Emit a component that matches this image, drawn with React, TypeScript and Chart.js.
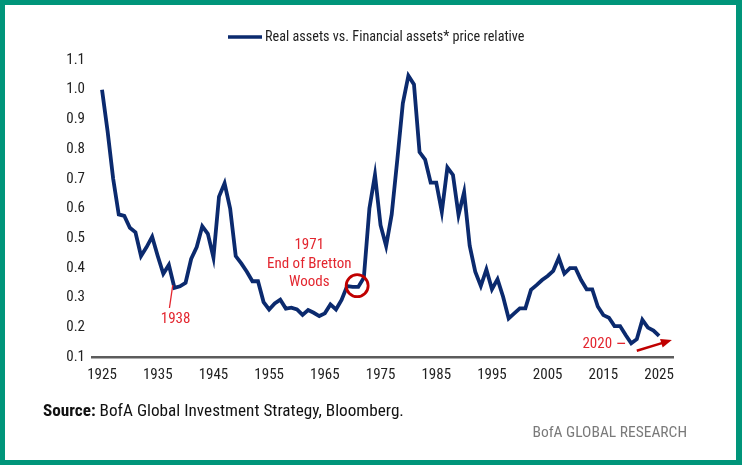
import React, { useEffect, useRef } from "react";
import { Chart, registerables } from "chart.js";

Chart.register(...registerables);

const YEARS: number[] = [
  1925, 1926, 1927, 1928, 1929, 1930, 1931, 1932, 1933, 1934,
  1935, 1936, 1937, 1938, 1939, 1940, 1941, 1942, 1943, 1944,
  1945, 1946, 1947, 1948, 1949, 1950, 1951, 1952, 1953, 1954,
  1955, 1956, 1957, 1958, 1959, 1960, 1961, 1962, 1963, 1964,
  1965, 1966, 1967, 1968, 1969, 1970, 1971, 1972, 1973, 1974,
  1975, 1976, 1977, 1978, 1979, 1980, 1981, 1982, 1983, 1984,
  1985, 1986, 1987, 1988, 1989, 1990, 1991, 1992, 1993, 1994,
  1995, 1996, 1997, 1998, 1999, 2000, 2001, 2002, 2003, 2004,
  2005, 2006, 2007, 2008, 2009, 2010, 2011, 2012, 2013, 2014,
  2015, 2016, 2017, 2018, 2019, 2020, 2021, 2022, 2023, 2024,
  2025,
];

const REAL_VS_FINANCIAL: number[] = [
  1.0, 0.86, 0.7, 0.58, 0.575, 0.535, 0.52, 0.44, 0.47, 0.505,
  0.44, 0.38, 0.41, 0.333, 0.338, 0.35, 0.43, 0.47, 0.54, 0.515,
  0.435, 0.64, 0.685, 0.6, 0.44, 0.415, 0.387, 0.355, 0.355, 0.285,
  0.26, 0.28, 0.293, 0.263, 0.266, 0.26, 0.242, 0.258, 0.249, 0.238,
  0.247, 0.277, 0.26, 0.292, 0.339, 0.336, 0.336, 0.367, 0.6, 0.713,
  0.544, 0.474, 0.58, 0.763, 0.954, 1.047, 1.018, 0.79, 0.765, 0.687,
  0.687, 0.589, 0.738, 0.713, 0.578, 0.655, 0.475, 0.387, 0.339, 0.395,
  0.328, 0.362, 0.303, 0.23, 0.247, 0.264, 0.264, 0.326, 0.342, 0.359,
  0.373, 0.39, 0.434, 0.381, 0.399, 0.399, 0.359, 0.328, 0.328, 0.27,
  0.241, 0.232, 0.204, 0.204, 0.174, 0.146, 0.16, 0.225, 0.199, 0.189,
  0.171,
];

const X_TICKS: number[] = [1925, 1935, 1945, 1955, 1965, 1975, 1985, 1995, 2005, 2015, 2025];
const SERIES_LABEL = "Real assets vs. Financial assets* price relative";
const SOURCE_TEXT = "BofA Global Investment Strategy, Bloomberg.";
const FOOTER_TEXT = "BofA GLOBAL RESEARCH";

const FONT = '"Liberation Sans Narrow", "Roboto Condensed", "Open Sans", sans-serif';
const NAVY = "#0b2a6e";
const ANN_RED = "#e3262f";
const DARK_RED = "#c00000";

const overlayPlugin = {
  id: "overlay",
  afterDraw(chart: any) {
    const ctx = chart.ctx as CanvasRenderingContext2D;
    const xs = chart.scales.x;
    const ys = chart.scales.y;
    const px = (v: number) => xs.getPixelForValue(v);
    const py = (v: number) => ys.getPixelForValue(v);
    ctx.save();

    // legend
    ctx.strokeStyle = NAVY;
    ctx.lineWidth = 3.5;
    ctx.beginPath();
    ctx.moveTo(228, 37);
    ctx.lineTo(262, 37);
    ctx.stroke();
    ctx.fillStyle = "#222";
    ctx.font = `14.2px ${FONT}`;
    ctx.textBaseline = "middle";
    ctx.textAlign = "left";
    ctx.fillText(SERIES_LABEL, 265, 37);

    // 1938 annotation
    ctx.strokeStyle = ANN_RED;
    ctx.lineWidth = 1.3;
    ctx.beginPath();
    ctx.moveTo(px(1937.7), py(0.342));
    ctx.lineTo(px(1937.1), py(0.265));
    ctx.stroke();
    ctx.fillStyle = ANN_RED;
    ctx.font = `15px ${FONT}`;
    ctx.textAlign = "center";
    ctx.fillText("1938", px(1938.2), py(0.226));

    // 1971 annotation
    ctx.fillText("1971", px(1962.2), py(0.475));
    ctx.fillText("End of Bretton", px(1962.2), py(0.413));
    ctx.fillText("Woods", px(1962.2), py(0.353));
    ctx.strokeStyle = DARK_RED;
    ctx.lineWidth = 2.8;
    ctx.beginPath();
    ctx.arc(px(1970.8), py(0.34), 11, 0, Math.PI * 2);
    ctx.stroke();

    // 2020 annotation
    ctx.fillStyle = ANN_RED;
    ctx.fillText("2020", px(2013.9), py(0.144));
    ctx.strokeStyle = ANN_RED;
    ctx.lineWidth = 1.3;
    ctx.beginPath();
    ctx.moveTo(px(2017.5), py(0.146));
    ctx.lineTo(px(2018.9), py(0.146));
    ctx.stroke();

    // arrow
    const x1 = px(2021.0), y1 = py(0.121), x2 = px(2027.3), y2 = py(0.157);
    const ang = Math.atan2(y2 - y1, x2 - x1);
    const head = 11;
    ctx.strokeStyle = DARK_RED;
    ctx.fillStyle = DARK_RED;
    ctx.lineWidth = 2.5;
    ctx.beginPath();
    ctx.moveTo(x1, y1);
    ctx.lineTo(x2 - head * 0.8 * Math.cos(ang), y2 - head * 0.8 * Math.sin(ang));
    ctx.stroke();
    ctx.beginPath();
    ctx.moveTo(x2, y2);
    ctx.lineTo(x2 - head * Math.cos(ang) + 4.5 * Math.sin(ang), y2 - head * Math.sin(ang) - 4.5 * Math.cos(ang));
    ctx.lineTo(x2 - head * Math.cos(ang) - 4.5 * Math.sin(ang), y2 - head * Math.sin(ang) + 4.5 * Math.cos(ang));
    ctx.closePath();
    ctx.fill();

    ctx.restore();
  },
};

export default function App() {
  const canvasRef = useRef<HTMLCanvasElement | null>(null);

  useEffect(() => {
    if (!canvasRef.current) return;
    const chart = new Chart(canvasRef.current, {
      type: "line",
      data: {
        datasets: [
          {
            label: SERIES_LABEL,
            data: YEARS.map((y, i) => ({ x: y, y: REAL_VS_FINANCIAL[i] })),
            borderColor: NAVY,
            backgroundColor: NAVY,
            borderWidth: 3.8,
            pointRadius: 0,
            tension: 0,
            fill: false,
          },
        ],
      },
      options: {
        responsive: false,
        animation: false,
        devicePixelRatio: 1,
        layout: { padding: { top: 60, right: 69, bottom: 0, left: 0 } },
        plugins: {
          legend: { display: false },
          tooltip: { enabled: false },
        },
        scales: {
          x: {
            type: "linear",
            min: 1923.2,
            max: 2027.5,
            grid: { display: false, drawTicks: false },
            border: { display: true, color: "#5c5c5c", width: 2.5 },
            afterBuildTicks: (scale: any) => {
              scale.ticks = X_TICKS.map((v) => ({ value: v }));
            },
            afterFit: (scale: any) => {
              scale.height = 108;
            },
            ticks: {
              autoSkip: false,
              maxRotation: 0,
              padding: 9,
              color: "#222",
              font: { family: FONT, size: 15 },
              callback: (v: any) => String(v),
            },
          },
          y: {
            type: "linear",
            min: 0.1,
            max: 1.1,
            grid: { display: false, drawTicks: false },
            border: { display: false },
            afterFit: (scale: any) => {
              scale.width = 92;
            },
            ticks: {
              stepSize: 0.1,
              padding: 7,
              color: "#222",
              font: { family: FONT, size: 15 },
              callback: (v: any) => Number(v).toFixed(1),
            },
          },
        },
      },
      plugins: [overlayPlugin],
    } as any);
    return () => chart.destroy();
  }, []);

  return (
    <div style={{ position: "absolute", left: 0, top: 0, width: 742, height: 465, background: "#fff", overflow: "hidden" }}>
      <canvas ref={canvasRef} width={742} height={465} style={{ position: "absolute", left: 0, top: 0, width: 742, height: 465 }} />
      <div
        style={{
          position: "absolute",
          left: 43,
          top: 400,
          fontFamily: FONT,
          fontSize: 17.2,
          color: "#111",
          lineHeight: "20px",
          whiteSpace: "nowrap",
        }}
      >
        <b>Source:</b> {SOURCE_TEXT}
      </div>
      <div
        style={{
          position: "absolute",
          right: 742 - 687,
          top: 422,
          fontFamily: FONT,
          fontSize: 15.5,
          color: "#7a7a7a",
          lineHeight: "20px",
          whiteSpace: "nowrap",
        }}
      >
        {FOOTER_TEXT}
      </div>
      <div
        style={{
          position: "absolute",
          left: 0,
          top: 0,
          width: 742,
          height: 465,
          boxSizing: "border-box",
          borderStyle: "solid",
          borderColor: "#00957a",
          borderWidth: "5px 6px 5px 5px",
          pointerEvents: "none",
        }}
      />
    </div>
  );
}
